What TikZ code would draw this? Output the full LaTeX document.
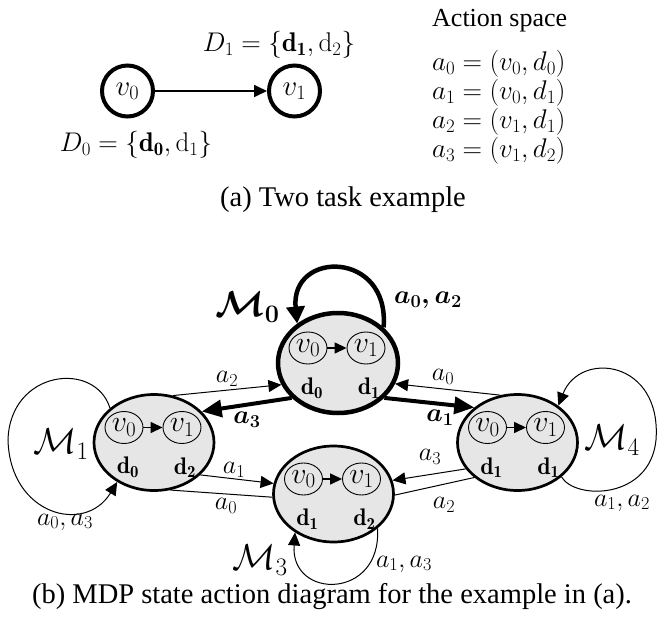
\documentclass[tikz,border=0pt]{standalone}
\usepackage{fix-cm}
\usepackage{amsmath,amssymb}
\usepackage{fontspec}
\newfontfamily\capfont{Liberation Serif}
\usetikzlibrary{shapes.geometric,arrows.meta}
\definecolor{stfill}{RGB}{230,230,230}
\newcommand{\mdpstate}[6]{%
  \node[#2] (#1) at (#3,#4) {};
  \node[vin] (#1a) at (#3-30,#4-15) {$v_0$};
  \node[vin] (#1b) at (#3+28,#4-15) {$v_1$};
  \draw[inarr] (#1a) -- (#1b);
  \node[dlab] (#1c) at (#3-26,#4+25) {$\mathbf{d}_{\mathbf{#5}}$};
  \node[dlab] (#1d) at (#3+31,#4+25) {$\mathbf{d}_{\mathbf{#6}}$};
}
\begin{document}
\begin{tikzpicture}[x=1pt,y=-1pt,
  bigstate/.style={ellipse, draw, line width=2.7pt, fill=stfill, minimum width=120pt, minimum height=96pt, inner sep=0pt},
  bigheavy/.style={bigstate, line width=4.5pt, minimum height=100pt},
  vin/.style={ellipse, draw, line width=0.9pt, minimum width=38pt, minimum height=32pt, inner sep=0pt, font=\fontsize{30}{31}\selectfont},
  dlab/.style={inner sep=0pt, font=\fontsize{24}{26}\selectfont},
  inarr/.style={line width=1.5pt, -{Triangle[length=12pt,width=11pt]}},
  edgelight/.style={line width=1pt, -{Triangle[length=13pt,width=12pt]}},
  edgeplain/.style={line width=1pt},
  edgeheavy/.style={line width=4pt, -{Triangle[length=20pt,width=17pt]}},
  looplight/.style={line width=1pt, -{Triangle[length=13pt,width=12pt]}},
  loopheavy/.style={line width=4.5pt, -{Triangle[length=17pt,width=18pt]}},
  lbl/.style={inner sep=0pt, font=\fontsize{26}{28}\selectfont},
  mlbl/.style={inner sep=0pt, font=\fontsize{36}{38}\selectfont},
  topv/.style={circle, draw, line width=4pt, minimum size=51pt, inner sep=0pt, font=\fontsize{29}{30}\selectfont},
  toparr/.style={line width=1.7pt, -{Triangle[length=13pt,width=12pt]}},
  txt/.style={inner sep=0pt, font=\fontsize{27}{29}\selectfont},
  captext/.style={inner sep=0pt, font=\capfont\fontsize{28.5}{32}\selectfont},
  headtext/.style={inner sep=0pt, font=\capfont\fontsize{26}{29}\selectfont}
]
\useasboundingbox (0,0) rectangle (665,635);

% ---- (a) ----
\node[topv] (v0) at (127.5,91) {$v_0$};
\node[topv] (v1) at (294.5,91) {$v_1$};
\draw[toparr] (v0) -- (v1);
\node[txt] (D1) at (279,45) {$D_1 = \{\mathbf{d}_{\mathbf{1}}, \mathrm{d}_2\}$};
\node[txt] (D0) at (136,145) {$D_0 = \{\mathbf{d}_{\mathbf{0}}, \mathrm{d}_1\}$};
\node[headtext, anchor=west] (AS) at (432,21) {Action space};
\node[txt, anchor=west] (A0) at (432,64) {$a_0 = (v_0, d_0)$};
\node[txt, anchor=west] (A1) at (432,93) {$a_1 = (v_0, d_1)$};
\node[txt, anchor=west] (A2) at (432,122) {$a_2 = (v_1, d_1)$};
\node[txt, anchor=west] (A3) at (432,151) {$a_3 = (v_1, d_2)$};
\node[captext] (capa) at (343,200) {(a) Two task example};

% ---- (b) ----
\mdpstate{M0}{bigheavy}{338}{363}{0}{1}
\mdpstate{M1}{bigstate}{154}{442.5}{0}{2}
\mdpstate{M4}{bigstate}{517.5}{442.5}{1}{1}
\mdpstate{M3}{bigstate}{333.5}{494}{1}{2}

\draw[edgelight] (M1.68) -- (M0.201);
\draw[edgeheavy] (M0.217) -- (M1.33);
\draw[edgeheavy] (M0.323) -- (M4.141);
\draw[edgelight] (M4.110) -- (M0.340);
\draw[edgelight] (M1.325) -- (M3.170);
\draw[edgeplain] (M3.183) -- (M1.289);
\draw[edgelight] (M4.207) -- (M3.13);
\draw[edgeplain] (M3.359) -- (M4.219);

\draw[loopheavy] (M0.38) .. controls (390,250) and (290,250) .. (M0.136);
\draw[looplight] (M1.142) .. controls (95,360) and (10,370) .. (8,440)
                 .. controls (10,515) and (85,535) .. (M1.227);
\draw[looplight] (M4.322) .. controls (575,500) and (650,500) .. (656,440)
                 .. controls (662,360) and (580,350) .. (M4.42);
\draw[looplight] (M3.322) .. controls (382,600) and (290,600) .. (M3.225);

\node[lbl] (l1) at (227,379) {$a_2$};
\node[lbl] (l2) at (247,420) {$\boldsymbol{a_3}$};
\node[lbl] (l3) at (443,377) {$a_0$};
\node[lbl] (l4) at (440,418) {$\boldsymbol{a_1}$};
\node[lbl] (l5) at (234,470) {$a_1$};
\node[lbl] (l6) at (226,506) {$a_0$};
\node[lbl] (l7) at (430,457) {$a_3$};
\node[lbl] (l8) at (444,505) {$a_2$};
\node[lbl] (l9) at (428,300) {$\boldsymbol{a_0, a_2}$};
\node[lbl] (l10) at (65,522) {$a_0, a_3$};
\node[lbl] (l11) at (622,503) {$a_1, a_2$};
\node[lbl] (l12) at (404,564) {$a_1, a_3$};
\node[mlbl] (n0) at (247.5,307) {$\boldsymbol{\mathcal{M}_0}$};
\node[mlbl] (n1) at (61,444) {$\mathcal{M}_1$};
\node[mlbl] (n3) at (260,560) {$\mathcal{M}_3$};
\node[mlbl] (n4) at (612,440) {$\mathcal{M}_4$};
\node[captext] (capb) at (332,597) {(b) MDP state action diagram for the example in (a).};
\end{tikzpicture}
\end{document}
